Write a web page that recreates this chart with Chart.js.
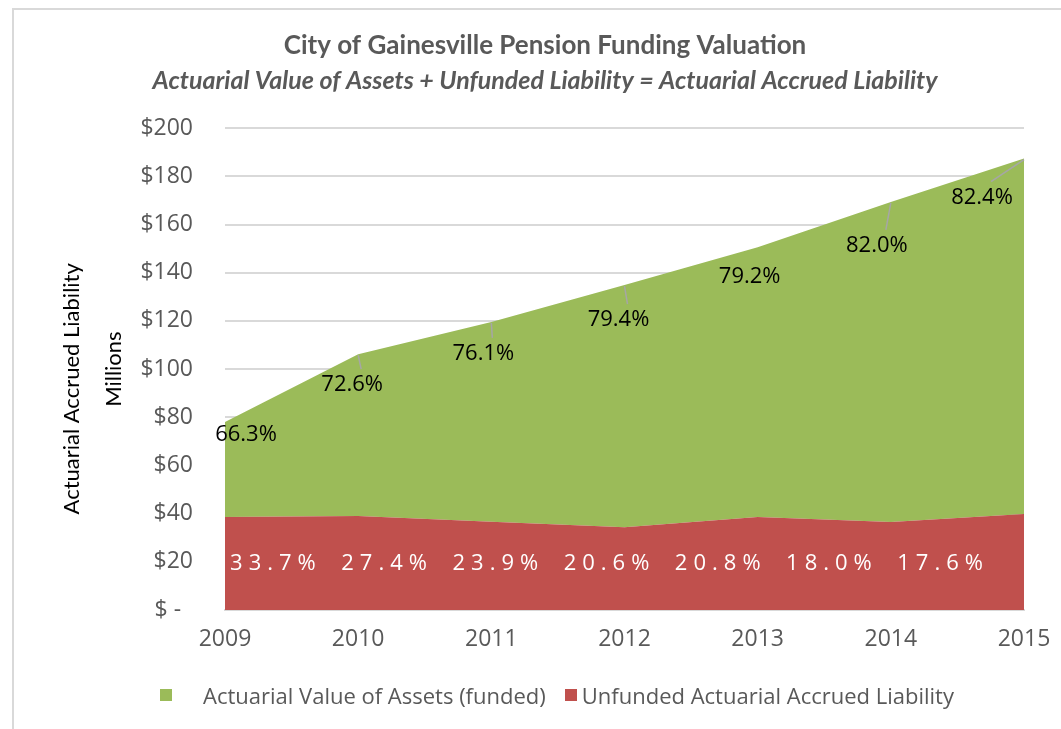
<!DOCTYPE html>
<html>
<head>
<meta charset="utf-8">
<script src="https://cdn.jsdelivr.net/npm/chart.js@4.4.1/dist/chart.umd.min.js"></script>
<style>
body { margin: 0; background: #fff; overflow: hidden; }
#wrap { position: relative; width: 1061px; height: 729px; }
#frame { position: absolute; left: 12px; top: 8px; width: 1200px; height: 900px;
  border-top: 2px solid #d9d9d9; border-left: 2px solid #d9d9d9; }
#myChart { position: absolute; left: 0; top: 0; }
#legend { position: absolute; left: 160px; top: 680px; font: 22px 'Open Sans'; color: #595959;
  display: flex; align-items: center; white-space: nowrap; }
.box { display: inline-block; width: 12px; height: 12px; }
</style>
</head>
<body>
<div id="wrap">
  <div id="frame"></div>
  <canvas id="myChart" width="1061" height="729"></canvas>
  <div id="legend"></div>
</div>
<script>
// data ($ millions)
const years = ['2009', '2010', '2011', '2012', '2013', '2014', '2015'];
const unfunded = [38.6, 39.0, 36.6, 34.4, 38.6, 36.5, 39.8];
const funded = [39.4, 67.2, 83.0, 100.5, 112.0, 132.9, 147.6];
const fundedPct = ['66.3%', '72.6%', '76.1%', '79.4%', '79.2%', '82.0%', '82.4%'];
const unfundedPct = ['33.7%', '27.4%', '23.9%', '20.6%', '20.8%', '18.0%', '17.6%'];
const yTickLabels = ['$ -  ', '$20', '$40', '$60', '$80', '$100', '$120', '$140', '$160', '$180', '$200'];

// where the labels got dragged to in the original (pixels from the point)
const fundedLabelShift = [[21, 13], [-6, 31], [-8, 32], [-6, 35], [-8, 30], [-14, 44], [-42, 39]];
const showLeader = [false, true, true, true, false, true, true];

const green = '#9BBB59';
const red = '#C0504D';

const pctLabels = {
  id: 'pctLabels',
  afterDatasetsDraw(chart) {
    const ctx = chart.ctx;
    const xs = chart.scales.x;
    const ys = chart.scales.y;
    const pts = chart.getDatasetMeta(1).data;
    ctx.save();
    ctx.textAlign = 'center';
    ctx.textBaseline = 'middle';

    ctx.font = '22px "Open Sans"';
    fundedPct.forEach((t, i) => {
      const p = pts[i];
      const lx = p.x + fundedLabelShift[i][0];
      const ly = p.y + fundedLabelShift[i][1];
      if (showLeader[i]) {
        ctx.strokeStyle = '#a6a6a6';
        ctx.lineWidth = 1.5;
        ctx.beginPath();
        ctx.moveTo(p.x, p.y + 1);
        ctx.lineTo(lx + 9, ly - 16);
        ctx.stroke();
      }
      ctx.fillStyle = '#000';
      ctx.fillText(t, lx, ly);
    });

    // unfunded labels sit in one row inside the red band
    ctx.font = '22px "Open Sans"';
    ctx.fillStyle = '#fff';
    ctx.letterSpacing = '6px';
    const x0 = xs.getPixelForValue(0);
    const step = xs.getPixelForValue(1) - x0;
    unfundedPct.forEach((t, i) => {
      ctx.fillText(t, x0 + step * (0.36 + 0.835 * i) + 3, ys.getPixelForValue(19));
    });
    ctx.restore();
  }
};

const ctx = document.getElementById('myChart');

const chart = new Chart(ctx, {
  type: 'line',
  data: {
    labels: years,
    datasets: [{
      label: 'Unfunded Actuarial Accrued Liability',
      data: unfunded,
      backgroundColor: red,
      borderColor: 'rgba(0,0,0,0)',
      borderWidth: 0,
      pointRadius: 0,
      fill: 'origin',
      tension: 0
    }, {
      label: 'Actuarial Value of Assets (funded)',
      data: funded,
      backgroundColor: green,
      borderColor: 'rgba(0,0,0,0)',
      borderWidth: 0,
      pointRadius: 0,
      fill: '-1',
      tension: 0
    }]
  },
  options: {
    responsive: false,
    animation: false,
    layout: { padding: { left: 66, right: 37, top: 0, bottom: 79 } },
    plugins: {
      legend: { display: false },
      tooltip: { enabled: false },
      title: {
        display: true,
        text: 'City of Gainesville Pension Funding Valuation',
        color: '#595959',
        font: { family: 'Lato', size: 26, weight: 'bold' },
        padding: { top: 30, bottom: 0 }
      },
      subtitle: {
        display: true,
        text: 'Actuarial Value of Assets + Unfunded Liability = Actuarial Accrued Liability',
        color: '#595959',
        font: { family: 'Lato', size: 25, weight: 'bold', style: 'italic' },
        padding: { top: 5, bottom: 32 }
      }
    },
    scales: {
      x: {
        offset: false,
        grid: { display: false, drawTicks: false },
        border: { display: true, color: '#d9d9d9', width: 2 },
        ticks: { color: '#595959', font: { family: 'Open Sans', size: 23 }, padding: 16, maxRotation: 0, autoSkip: false },
        afterFit: (s) => { s.height = 40; s.paddingRight = 0; s.paddingLeft = 0; }
      },
      y: {
        stacked: true,
        min: 0,
        max: 200,
        ticks: {
          stepSize: 20,
          color: '#595959',
          font: { family: 'Open Sans', size: 23 },
          padding: 32,
          callback: (v, i) => yTickLabels[i]
        },
        grid: { color: '#d9d9d9', lineWidth: 2, drawTicks: false },
        border: { display: false },
        title: {
          display: true,
          // trailing spaces nudge the first line down like in the original
          text: ['Actuarial Accrued Liability       ', 'Millions'],
          color: '#000',
          font: { family: 'Lato', size: 22, lineHeight: 1.9 },
          padding: { top: -15, bottom: 0 }
        },
        afterFit: (s) => { s.width = 159; }
      }
    }
  },
  plugins: [pctLabels]
});

// legend as html, green first like the original
const legend = document.getElementById('legend');
legend.innerHTML = `
  <span class="box" style="background:${green}"></span>
  <span style="margin-left:31px">${chart.data.datasets[1].label}</span>
  <span class="box" style="background:${red};margin-left:19px"></span>
  <span style="margin-left:5px">${chart.data.datasets[0].label}</span>
`;
</script>
</body>
</html>
